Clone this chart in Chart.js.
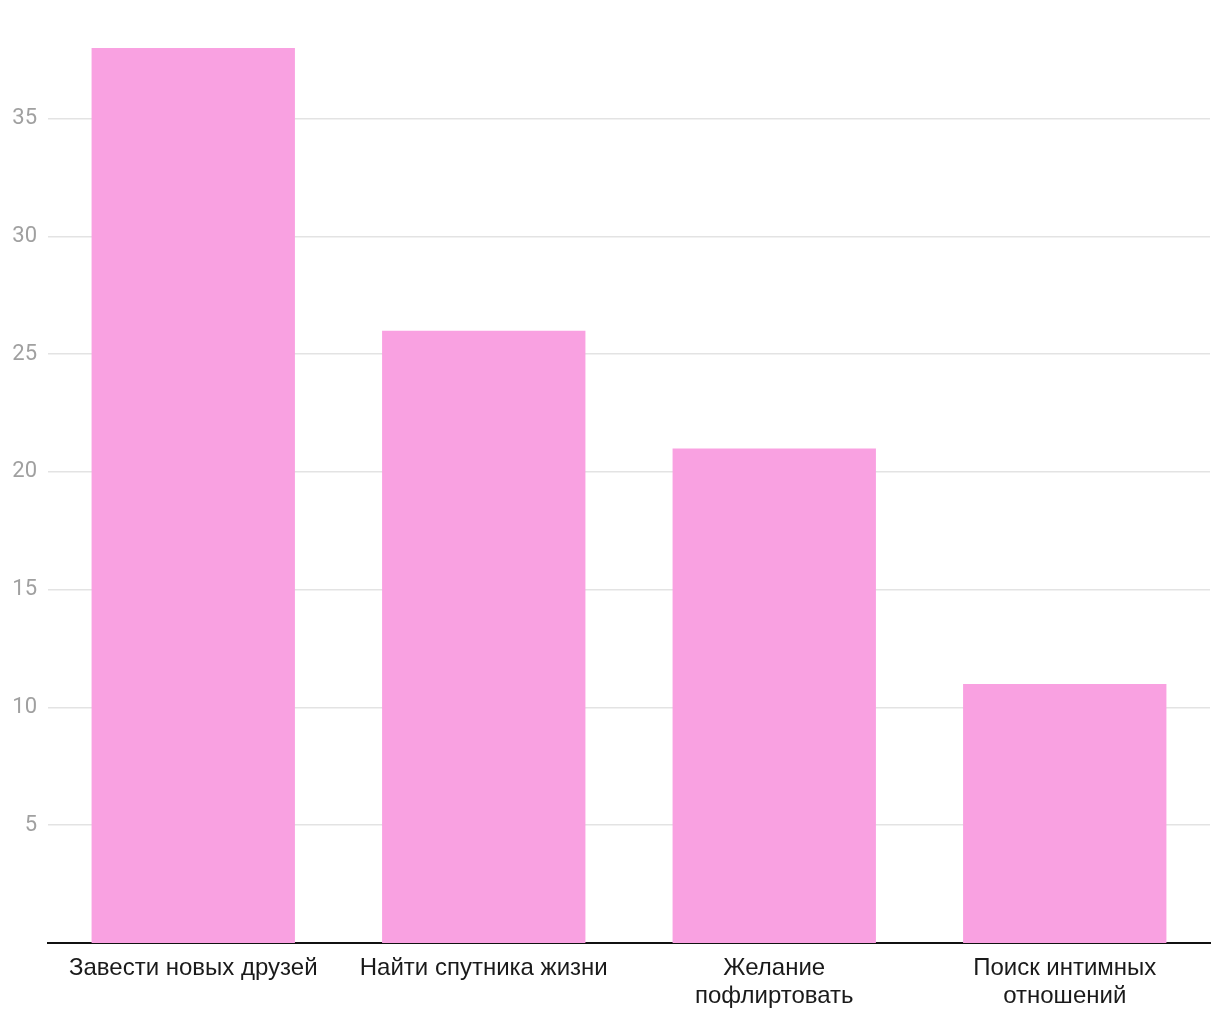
<!DOCTYPE html>
<html>
<head>
<meta charset="utf-8">
<script src="https://cdn.jsdelivr.net/npm/chart.js@4"></script>
<style>
    html, body { margin: 0; padding: 0; background: #fff; }
    #wrap { width: 1220px; height: 1020px; }
</style>
</head>
<body>
<div id="wrap"><canvas id="goalsChart"></canvas></div>
<script>
const categories = [
    'Завести новых друзей',
    'Найти спутника жизни',
    ['Желание', 'пофлиртовать'],
    ['Поиск интимных', 'отношений']
];
const values = [38, 26, 21, 11];
const yTicks = [5, 10, 15, 20, 25, 30, 35];

document.addEventListener('DOMContentLoaded', function () {
    new Chart(document.getElementById('goalsChart'), {
        type: 'bar',
        data: {
            labels: categories,
            datasets: [{
                data: values,
                backgroundColor: '#f9a1e1',
                borderWidth: 0,
                barPercentage: 0.7,
                categoryPercentage: 1
            }]
        },
        options: {
            responsive: true,
            maintainAspectRatio: false,
            animation: false,
            layout: {
                padding: { top: 48, right: 10, left: 0, bottom: 0 }
            },
            plugins: {
                legend: { display: false },
                tooltip: { enabled: false }
            },
            scales: {
                x: {
                    grid: { display: false, drawTicks: false },
                    border: { display: true, color: '#111', width: 2 },
                    ticks: {
                        color: '#1a1a1a',
                        padding: 11,
                        maxRotation: 0,
                        autoSkip: false,
                        font: { family: 'Liberation Sans, Arial, sans-serif', size: 24, lineHeight: 1.17 }
                    },
                    afterFit: function (axis) { axis.height = 77; }
                },
                y: {
                    min: 0,
                    max: 38,
                    afterBuildTicks: function (axis) {
                        axis.ticks = yTicks.map(v => ({ value: v }));
                    },
                    grid: { color: '#e3e3e3', lineWidth: 1.5, drawTicks: false },
                    border: { display: false },
                    ticks: {
                        color: '#a0a0a0',
                        padding: 11,
                        font: { family: 'Roboto, sans-serif', size: 22 }
                    },
                    afterFit: function (axis) { axis.width = 48; }
                }
            }
        }
    });
});
</script>
</body>
</html>
